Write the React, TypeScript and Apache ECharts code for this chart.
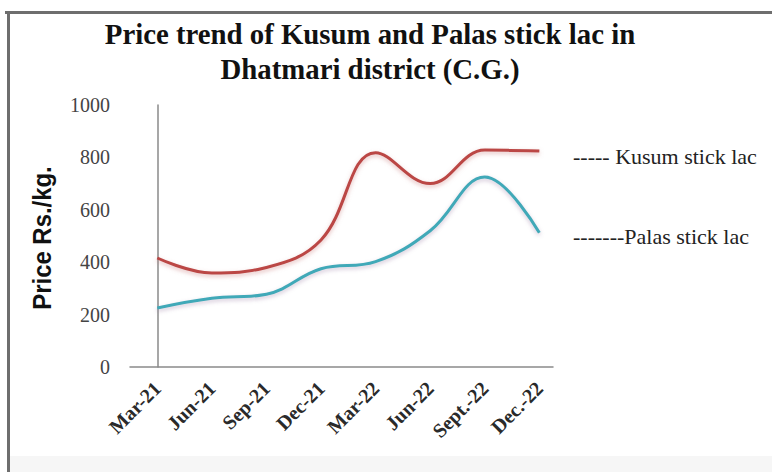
import React, { useEffect, useRef } from "react";
import * as echarts from "echarts";

const categories = ["Mar-21", "Jun-21", "Sep-21", "Dec-21", "Mar-22", "Jun-22", "Sept.-22", "Dec.-22"];
const kusum = [416, 359, 380, 485, 818, 700, 828, 824];
const palas = [225, 262, 278, 375, 402, 520, 725, 512];
const yTicks = [0, 200, 400, 600, 800, 1000];
const titleLines = ["Price trend of Kusum and Palas stick lac in", "Dhatmari district (C.G.)"];
const legendLabels = ["----- Kusum stick lac", "-------Palas stick lac"];
const yName = "Price Rs./kg.";

export default function App() {
  const ref = useRef<HTMLDivElement>(null);
  useEffect(() => {
    if (!ref.current) return;
    const chart = echarts.init(ref.current, null, { renderer: "svg" });
    const serif = "'Liberation Serif', 'Times New Roman', serif";
    chart.setOption({
      animation: false,
      backgroundColor: "#ffffff",
      grid: { left: 130, right: 219, top: 105, bottom: 105 },
      xAxis: {
        type: "value",
        min: -0.5,
        max: 7.25,
        splitLine: { show: false },
        axisTick: { show: false },
        axisLine: { show: true, onZero: false, lineStyle: { color: "#8a8a8a", width: 1.5 } },
        axisLabel: {
          customValues: categories.map((_, i) => i),
          formatter: (v: number) => categories[Math.round(v)] ?? "",
          rotate: 45,
          margin: 18,
          fontFamily: serif,
          fontWeight: "bold",
          fontSize: 20,
          color: "#2a2a2a",
        },
      },
      yAxis: {
        type: "value",
        min: yTicks[0],
        max: yTicks[yTicks.length - 1],
        interval: 200,
        splitLine: { show: false },
        axisTick: { show: false },
        axisLine: { show: true, lineStyle: { color: "#8a8a8a", width: 1.5 } },
        axisLabel: { formatter: (v: number) => String(v), fontFamily: serif, fontSize: 20, color: "#444", margin: 20 },
      },
      series: [
        {
          name: "Kusum stick lac",
          type: "line",
          smooth: 0.4,
          showSymbol: false,
          data: kusum.map((v, i) => [i, v]),
          lineStyle: { color: "#bb4644", width: 3, shadowColor: "rgba(200,120,120,0.5)", shadowBlur: 4, shadowOffsetY: 2 },
        },
        {
          name: "Palas stick lac",
          type: "line",
          smooth: 0.4,
          showSymbol: false,
          data: palas.map((v, i) => [i, v]),
          lineStyle: { color: "#3fa9b8", width: 3, shadowColor: "rgba(150,120,160,0.45)", shadowBlur: 4, shadowOffsetY: 2 },
        },
      ],
      graphic: [
        { type: "rect", shape: { x: 5, y: 11, width: 767, height: 3 }, style: { fill: "#6e6e6e" } },
        { type: "rect", shape: { x: 7, y: 11, width: 3, height: 461 }, style: { fill: "#6e6e6e" } },
        { type: "rect", shape: { x: 10, y: 456, width: 762, height: 16 }, style: { fill: "#f6f6f6" } },
        {
          type: "text", x: 370, y: 34, scaleX: 0.96,
          style: { text: titleLines[0], font: `bold 30px ${serif}`, fill: "#111", textAlign: "center", textVerticalAlign: "middle" },
        },
        {
          type: "text", x: 370, y: 69, scaleX: 0.96,
          style: { text: titleLines[1], font: `bold 30px ${serif}`, fill: "#111", textAlign: "center", textVerticalAlign: "middle" },
        },
        {
          type: "text", x: 42, y: 238, rotation: Math.PI / 2, scaleX: 0.92,
          style: { text: yName, font: `bold 26px 'Liberation Sans', Arial, sans-serif`, fill: "#111", textAlign: "center", textVerticalAlign: "middle" },
        },
        {
          type: "text", x: 573, y: 156,
          style: { text: legendLabels[0], font: `22px ${serif}`, fill: "#222", textAlign: "left", textVerticalAlign: "middle" },
        },
        {
          type: "text", x: 573, y: 236,
          style: { text: legendLabels[1], font: `22px ${serif}`, fill: "#222", textAlign: "left", textVerticalAlign: "middle" },
        },
      ],
    });
    return () => chart.dispose();
  }, []);
  return <div ref={ref} style={{ width: 772, height: 472, position: "absolute", left: 0, top: 0 }} />;
}
